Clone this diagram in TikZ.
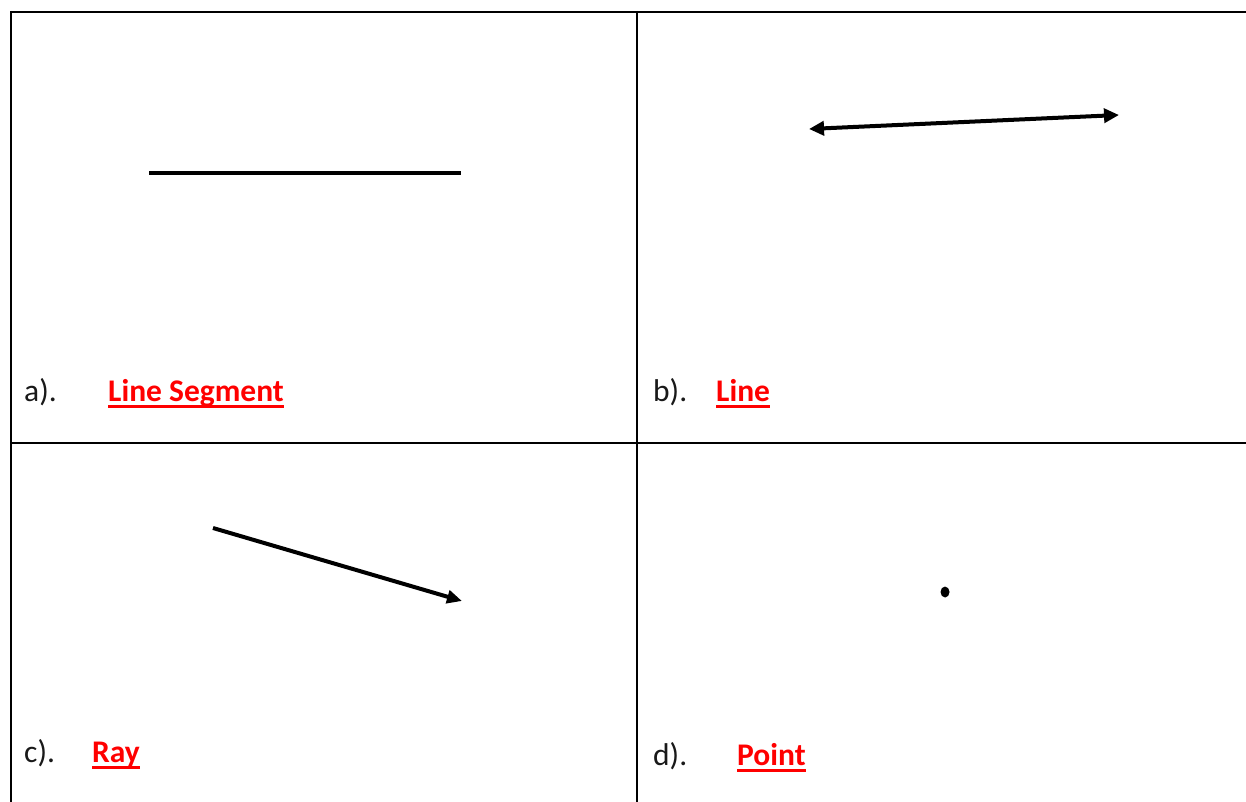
\documentclass[tikz,border=0pt]{standalone}
\usepackage{fontspec}
\setmainfont{Carlito}
\usetikzlibrary{arrows.meta}
\tikzset{
  gridline/.style={line width=2pt, black},
  lbltag/.style={anchor=base west, inner sep=0pt, font=\fontsize{31.5}{36}\selectfont, text=black!90},
  lblname/.style={anchor=base west, inner sep=0pt, font=\fontsize{31.5}{36}\selectfont\bfseries, text=red},
  uline/.style={red, line width=3pt},
  shapeline/.style={line width=4pt, black},
  raytip/.style={-{Triangle[length=15pt,width=13pt]}},
}
\begin{document}
\begin{tikzpicture}[x=1pt,y=-1pt]
\useasboundingbox (0,0) rectangle (1246,802);
\fill[white] (0,0) rectangle (1246,802);
% table
\draw[gridline] (10,12) -- (1246,12);
\draw[gridline] (10,443) -- (1246,443);
\draw[gridline] (11,11) -- (11,802);
\draw[gridline] (637,11) -- (637,802);
% labels
\node[lbltag] (ta) at (24,401) {a).};
\node[lblname] (na) at (108,401) {Line Segment};
\draw[uline] ([yshift=-5.5pt]na.base west) -- ([yshift=-5.5pt]na.base east);
\node[lbltag] (tb) at (653,401) {b).};
\node[lblname] (nb) at (716,401) {Line};
\draw[uline] ([yshift=-5.5pt]nb.base west) -- ([yshift=-5.5pt]nb.base east);
\node[lbltag] (tc) at (24,762) {c).};
\node[lblname] (nc) at (92,762) {Ray};
\draw[uline] ([yshift=-5.5pt]nc.base west) -- ([yshift=-5.5pt]nc.base east);
\node[lbltag] (td) at (653,765) {d).};
\node[lblname] (nd) at (737,765) {Point};
\draw[uline] ([yshift=-5.5pt]nd.base west) -- ([yshift=-5.5pt]nd.base east);
% shapes
\coordinate (s1) at (149,173);
\coordinate (s2) at (461,173);
\draw[shapeline] (s1) -- (s2);
\coordinate (l1) at (809,129);
\coordinate (l2) at (1119,115);
\draw[shapeline, {Triangle[length=15pt,width=14pt]}-{Triangle[length=15pt,width=14pt]}] (l1) -- (l2);
\coordinate (r1) at (213,528);
\coordinate (r2) at (462,601);
\draw[shapeline, raytip] (r1) -- (r2);
\coordinate (p) at (945,592);
\fill[black] (p) ellipse (4.5pt and 5.5pt);
\end{tikzpicture}
\end{document}
